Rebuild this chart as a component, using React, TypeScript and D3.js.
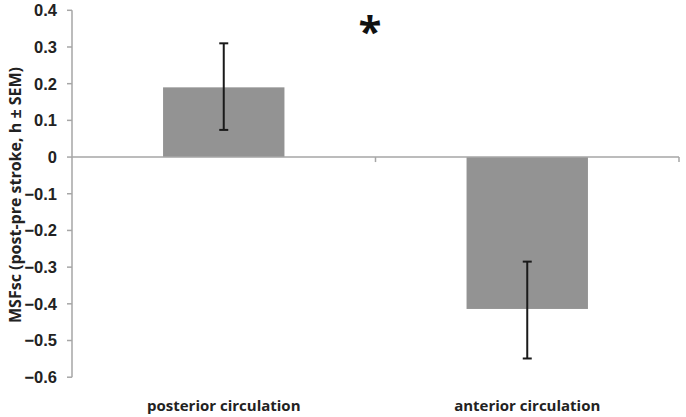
import React from "react";
import * as d3 from "d3";

const categories = ["posterior circulation", "anterior circulation"];
const means = [0.19, -0.414];
const errLow = [0.074, -0.549];
const errHigh = [0.31, -0.285];
const yTicks = [0.4, 0.3, 0.2, 0.1, 0, -0.1, -0.2, -0.3, -0.4, -0.5, -0.6];
const yTitle = "MSFsc (post-pre stroke, h \u00b1 SEM)";
const sigMark = "*";

const W = 686;
const H = 417;
const FONT = "'Open Sans', 'Noto Sans', sans-serif";
const TICK_FONT = "'Liberation Sans', Arial, sans-serif";

export default function App() {
  const x0 = 72;
  const x1 = 679;
  const y = d3.scaleLinear().domain([-0.6, 0.4]).range([377.2, 10.3]);
  const x = d3
    .scaleBand<string>()
    .domain(categories)
    .range([x0, x1])
    .paddingInner(0.6)
    .paddingOuter(0.3);
  const band = d3.scaleBand<string>().domain(categories).range([x0, x1]);
  const axisColor = "#a6a6a6";
  const zeroY = y(0);
  const fmt = (v: number) => (v === 0 ? "0" : d3.format(".1f")(v));

  return (
    <svg
      width={W}
      height={H}
      style={{ position: "absolute", left: 0, top: 0, background: "#fff" }}
      fontFamily={FONT}
    >
      <rect width={W} height={H} fill="#fff" />
      {/* bars */}
      {categories.map((c, i) => {
        const top = Math.min(y(means[i]), zeroY);
        const h = Math.abs(y(means[i]) - zeroY);
        return (
          <rect key={c} x={x(c)} y={top} width={x.bandwidth()} height={h} fill="#939393" />
        );
      })}
      {/* y axis */}
      <line x1={x0} x2={x0} y1={y(0.4)} y2={y(-0.6)} stroke={axisColor} strokeWidth={1.5} />
      {yTicks.map((t) => (
        <g key={t}>
          <line x1={x0 - 5} x2={x0} y1={y(t)} y2={y(t)} stroke={axisColor} strokeWidth={1.5} />
          <text
            x={57}
            y={y(t)}
            dy="0.36em"
            textAnchor="end"
            fontFamily={TICK_FONT}
            fontSize={16.5}
            fontWeight={700}
            fill="#222"
          >
            {fmt(t)}
          </text>
        </g>
      ))}
      {/* zero line & category ticks */}
      <line x1={x0} x2={x1} y1={zeroY} y2={zeroY} stroke={axisColor} strokeWidth={1.5} />
      {categories.map((c) => (
        <line
          key={"t" + c}
          x1={(band(c) as number) + band.bandwidth()}
          x2={(band(c) as number) + band.bandwidth()}
          y1={zeroY}
          y2={zeroY + 5}
          stroke={axisColor}
          strokeWidth={1.5}
        />
      ))}
      {/* error bars */}
      {categories.map((c, i) => {
        const cx = (x(c) as number) + x.bandwidth() / 2;
        return (
          <g key={"e" + c} stroke="#1a1a1a" strokeWidth={2}>
            <line x1={cx} x2={cx} y1={y(errHigh[i])} y2={y(errLow[i])} />
            <line x1={cx - 4.5} x2={cx + 4.5} y1={y(errHigh[i])} y2={y(errHigh[i])} />
            <line x1={cx - 4.5} x2={cx + 4.5} y1={y(errLow[i])} y2={y(errLow[i])} />
          </g>
        );
      })}
      {/* category labels */}
      {categories.map((c) => (
        <text
          key={"l" + c}
          x={(band(c) as number) + band.bandwidth() / 2}
          y={411}
          textAnchor="middle"
          fontSize={15}
          fontWeight={700}
          fill="#222"
        >
          {c}
        </text>
      ))}
      {/* y title */}
      <text
        transform={`translate(21, 195) rotate(-90)`}
        textAnchor="middle"
        fontSize={16}
        fontWeight={700}
        fill="#222"
      >
        {yTitle}
      </text>
      {/* significance */}
      <text x={370} y={46} textAnchor="middle" fontSize={42} fontWeight={700} fill="#111">
        {sigMark}
      </text>
    </svg>
  );
}
